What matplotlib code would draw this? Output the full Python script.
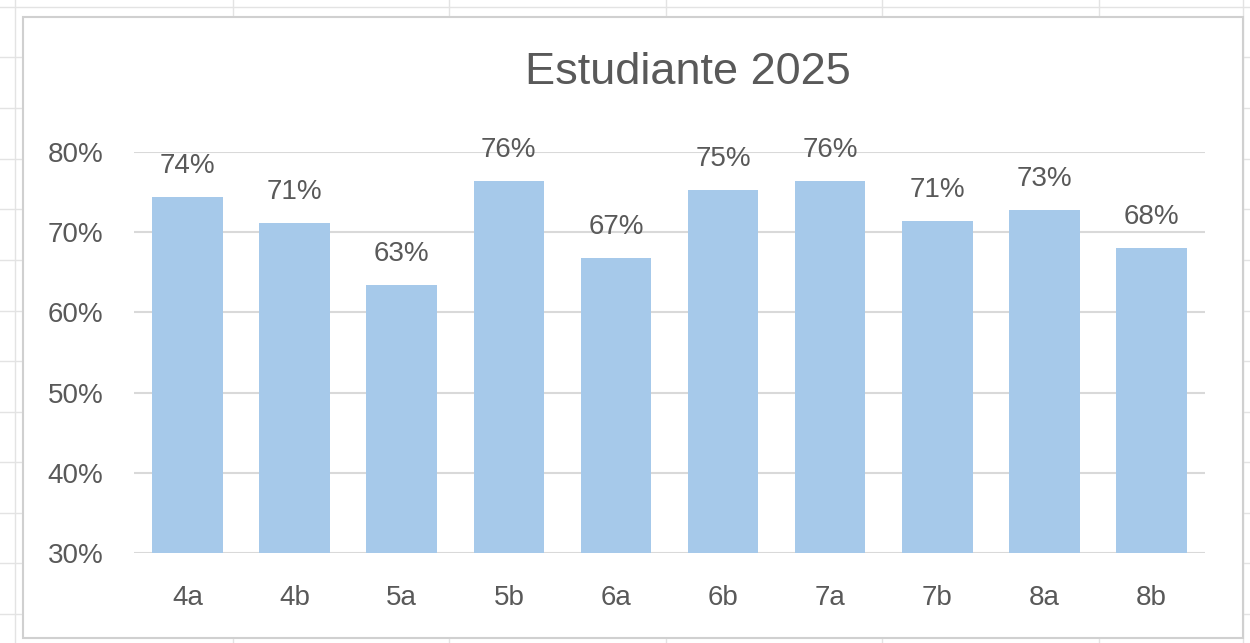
import matplotlib
matplotlib.use('Agg')
import matplotlib.pyplot as plt
from matplotlib.lines import Line2D
from matplotlib.patches import Rectangle
from matplotlib.ticker import PercentFormatter

plt.rcParams['font.family'] = ['Liberation Sans', 'DejaVu Sans']

# grades and their share
grupos = ["4a", "4b", "5a", "5b", "6a", "6b", "7a", "7b", "8a", "8b"]
valores = [0.744, 0.712, 0.634, 0.764, 0.668, 0.752, 0.764, 0.714, 0.728, 0.680]
ticks_y = [0.3, 0.4, 0.5, 0.6, 0.7, 0.8]
titulo = "Estudiante 2025"

BAR = "#a6c9ea"
TEXT = "#595959"
GRID = "#d9d9d9"
SHEET = "#e3e3e3"

W, H = 1250, 643
fig = plt.figure(figsize=(W / 100, H / 100), dpi=100)


def px(x, y):
    # pixel coords (top-left origin) -> figure fraction
    return x / W, 1 - y / H


# spreadsheet cell lines behind the chart
lines = [((0, W), (7, 7)), ((15, 15), (0, H)), ((W - 7, W - 7), (0, H))]
for x in [233, 449, 666, 882, 1099]:
    lines.append(((x, x), (0, 17)))
    lines.append(((x, x), (638, H)))
for y in [57, 108, 159, 209, 260, 311, 361, 412, 462, 513, 563, 614]:
    lines.append(((0, 23), (y, y)))
    lines.append(((1243, W), (y, y)))
for xs, ys in lines:
    fx = [xx / W for xx in xs]
    fy = [1 - yy / H for yy in ys]
    fig.add_artist(Line2D(fx, fy, color=SHEET, lw=1, zorder=0))

# chart frame
x0, y0 = px(23, 638)
x1, y1 = px(1243, 17)
fig.add_artist(Rectangle((x0, y0), x1 - x0, y1 - y0, facecolor="white",
                         edgecolor="#d0d0d0", lw=1.5, zorder=0.5))

l, b = px(134, 553)
r, t = px(1205, 152)
ax = fig.add_axes([l, b, r - l, t - b])
ax.set_zorder(2)
ax.set_facecolor("none")

pos = range(len(grupos))
ax.bar(pos, valores, width=0.66, color=BAR, zorder=2, bottom=0)
for i, v in enumerate(valores):
    ax.annotate(f"{v:.0%}", (i, v), xytext=(0, 13), textcoords="offset points",
                ha="center", va="bottom", fontsize=20, color=TEXT,
                annotation_clip=False)

ax.set_ylim(0.3, 0.8)
ax.set_xlim(-0.5, len(grupos) - 0.5)
ax.set_yticks(ticks_y)
ax.yaxis.set_major_formatter(PercentFormatter(1.0, decimals=0))
ax.set_xticks(list(pos))
ax.set_xticklabels(grupos)
ax.grid(axis="y", color=GRID, lw=1.5, zorder=0)
ax.set_axisbelow(True)
ax.tick_params(length=0, labelsize=20, colors=TEXT)
ax.tick_params(axis="x", pad=23)
ax.tick_params(axis="y", pad=22)
for s in ax.spines.values():
    s.set_visible(False)

fig.text(688 / W, 1 - 72 / H, titulo, ha="center", va="center",
         fontsize=32.5, color=TEXT, zorder=3)

fig.savefig("out.png", dpi=100)
